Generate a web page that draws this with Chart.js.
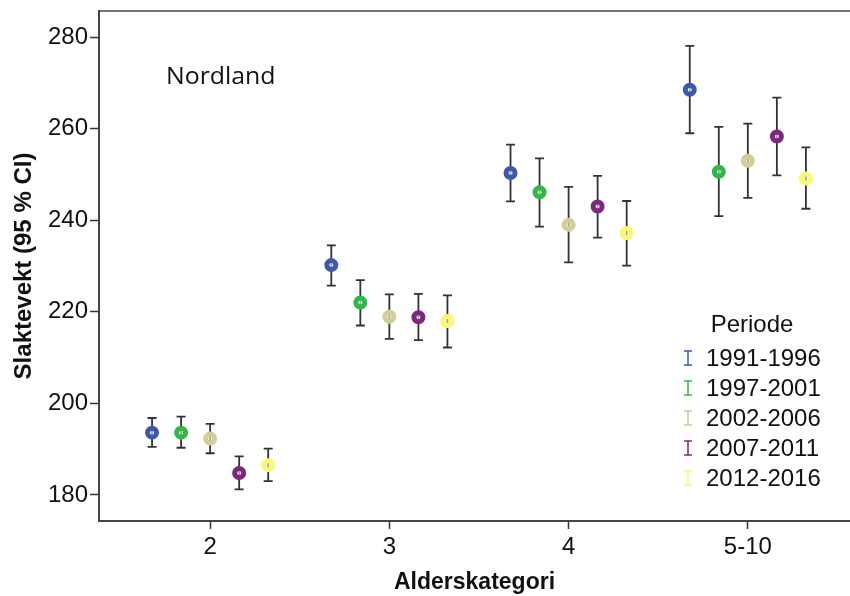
<!DOCTYPE html>
<html>
<head>
<meta charset="utf-8">
<script src="https://cdn.jsdelivr.net/npm/chart.js@4.4.0/dist/chart.umd.min.js"></script>
<style>
  html, body { margin: 0; padding: 0; background: #fff; }
  #wrap { width: 850px; height: 596px; }
</style>
</head>
<body>
<div id="wrap"><canvas id="chartSlakt" width="850" height="596"></canvas></div>
<script>
let kategorier = ['2', '3', '4', '5-10'];
let perioder = ['1991-1996', '1997-2001', '2002-2006', '2007-2011', '2012-2016'];
let farger = ['#3E58AC', '#2EB848', '#D3CE97', '#7C287D', '#FBF873'];
let forskyvning = [-0.324, -0.162, 0, 0.162, 0.324]; // plassering innen hver kategori
let yTicks = [180, 200, 220, 240, 260, 280];

// gjennomsnitt og 95 % KI, en rad per periode, en verdi per alderskategori
let snitt = [
    [193.6, 230.2, 250.3, 268.5],
    [193.6, 222.0, 246.1, 250.6],
    [192.3, 218.9, 239.0, 253.0],
    [184.8, 218.8, 243.0, 258.3],
    [186.5, 218.0, 237.2, 249.1]
];
let nedre = [
    [190.5, 225.7, 244.1, 259.0],
    [190.3, 217.0, 238.6, 240.9],
    [189.1, 214.1, 230.8, 244.9],
    [181.2, 213.8, 236.2, 249.8],
    [183.0, 212.2, 230.1, 242.5]
];
let ovre = [
    [196.8, 234.5, 256.5, 278.1],
    [197.1, 226.9, 253.5, 260.4],
    [195.5, 223.8, 247.3, 261.1],
    [188.4, 223.9, 249.7, 266.8],
    [190.1, 223.6, 244.2, 255.9]
];

let datasets = perioder.map(function(p, i){
    return {
        label: p,
        data: snitt[i].map(function(v, j){ return {x: j + forskyvning[i], y: v}; }),
        pointStyle: 'circle',
        pointRadius: 4.5,
        pointBorderWidth: 5,
        pointBorderColor: farger[i],
        pointBackgroundColor: 'rgba(255,255,255,0.55)',
        showLine: false
    };
});

// feilstolper (KI) tegnes under punktene
const feilstolper = {
    id: 'feilstolper',
    beforeDatasetsDraw(chart){
        const ctx = chart.ctx, xs = chart.scales.x, ys = chart.scales.y;
        ctx.save();
        ctx.strokeStyle = '#333';
        ctx.lineWidth = 1.8;
        perioder.forEach(function(p, i){
            kategorier.forEach(function(k, j){
                var x = xs.getPixelForValue(j + forskyvning[i]);
                var yh = ys.getPixelForValue(ovre[i][j]);
                var yl = ys.getPixelForValue(nedre[i][j]);
                ctx.beginPath();
                ctx.moveTo(x, yh); ctx.lineTo(x, yl);
                ctx.moveTo(x - 4.5, yh); ctx.lineTo(x + 4.5, yh);
                ctx.moveTo(x - 4.5, yl); ctx.lineTo(x + 4.5, yl);
                ctx.stroke();
            });
        });
        ctx.restore();
    }
};

// ramme øverst, tekst "Nordland" og forklaring
const ekstra = {
    id: 'ekstra',
    afterDraw(chart){
        const ctx = chart.ctx, a = chart.chartArea;
        ctx.save();
        ctx.strokeStyle = '#444';
        ctx.lineWidth = 1.5;
        ctx.beginPath();
        ctx.moveTo(a.left, a.top); ctx.lineTo(a.right, a.top);
        ctx.stroke();

        ctx.fillStyle = '#111';
        ctx.textBaseline = 'middle';
        ctx.save();
        ctx.translate(166, 77);
        ctx.scale(1.08, 1);
        ctx.font = '23px "Open Sans"';
        ctx.textAlign = 'left';
        ctx.fillText('Nordland', 0, 0);
        ctx.restore();

        ctx.font = '24px "Liberation Sans"';
        ctx.textAlign = 'center';
        ctx.fillText('Periode', 752, 325);
        ctx.textAlign = 'left';
        perioder.forEach(function(p, i){
            var y = 358 + i * 30;
            ctx.strokeStyle = farger[i];
            ctx.lineWidth = 1.5;
            ctx.beginPath();
            ctx.moveTo(688, y - 7); ctx.lineTo(688, y + 7);
            ctx.moveTo(684, y - 7); ctx.lineTo(692, y - 7);
            ctx.moveTo(684, y + 7); ctx.lineTo(692, y + 7);
            ctx.stroke();
            ctx.fillStyle = '#111';
            ctx.fillText(p, 706, y + 1);
        });
        ctx.restore();
    }
};

new Chart(document.getElementById('chartSlakt'), {
    type: 'scatter',
    data: { datasets: datasets },
    plugins: [feilstolper, ekstra],
    options: {
        responsive: false,
        animation: false,
        layout: { autoPadding: false, padding: { top: 11, right: 0, left: 0, bottom: 0 } },
        plugins: { legend: { display: false }, tooltip: { enabled: false } },
        scales: {
            x: {
                type: 'linear',
                min: -0.62,
                max: 3.57,
                afterFit(s){ s.height = 75; s.paddingLeft = 0; s.paddingRight = 0; },
                afterBuildTicks(s){ s.ticks = kategorier.map(function(k, i){ return {value: i}; }); },
                grid: { drawOnChartArea: false, tickLength: 8, tickWidth: 1.5, tickColor: '#333' },
                border: { color: '#444', width: 2 },
                ticks: {
                    callback: function(v){ return kategorier[v]; },
                    font: { family: 'Liberation Sans', size: 24 },
                    color: '#111',
                    padding: 4,
                    maxRotation: 0
                },
                title: {
                    display: true,
                    text: 'Alderskategori',
                    font: { family: 'Liberation Sans', size: 23, weight: 'bold' },
                    color: '#111',
                    padding: { top: 0, bottom: 0 }
                }
            },
            y: {
                min: 174.3,
                max: 285.7,
                afterFit(s){ s.width = 99; s.paddingTop = 0; s.paddingBottom = 0; },
                afterBuildTicks(s){ s.ticks = yTicks.map(function(v){ return {value: v}; }); },
                grid: { drawOnChartArea: false, tickLength: 9, tickWidth: 1.5, tickColor: '#333' },
                border: { color: '#444', width: 2 },
                ticks: {
                    font: { family: 'Liberation Sans', size: 24 },
                    color: '#111',
                    padding: 2
                },
                title: {
                    display: true,
                    text: 'Slaktevekt (95 % CI)',
                    font: { family: 'Liberation Sans', size: 24, weight: 'bold' },
                    color: '#111',
                    padding: { top: 10, bottom: 0 }
                }
            }
        }
    }
});
</script>
</body>
</html>
